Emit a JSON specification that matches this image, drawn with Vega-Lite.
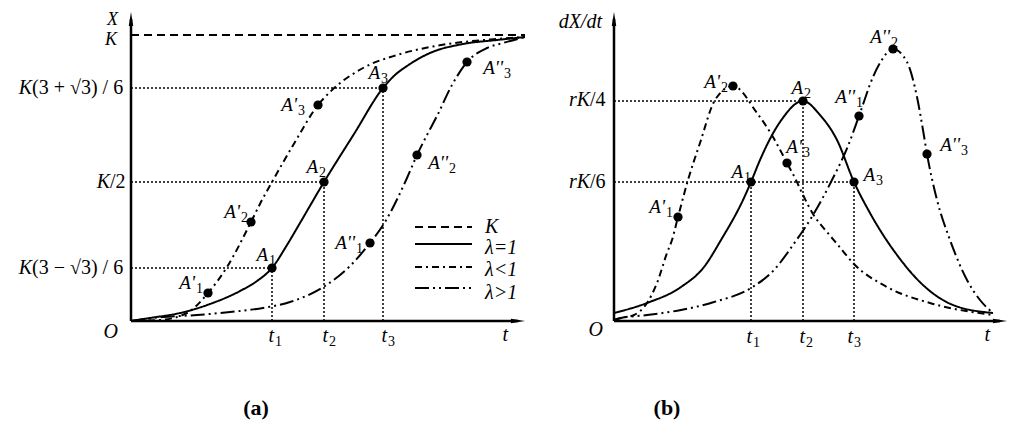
{
  "$schema": "https://vega.github.io/schema/vega-lite/v6.json",
  "width": 1024,
  "height": 431,
  "autosize": {"type": "fit", "contains": "padding"},
  "padding": 0,
  "background": "white",
  "config": {"view": {"stroke": null}, "text": {"font": "Liberation Serif, Times New Roman, Times, serif", "color": "black"}},
  "datasets": {
    "axesA": [{"t": 0, "X": 0, "t2": 0, "X2": 302}, {"t": 0, "X": 0, "t2": 387, "X2": 0}],
    "arrowsA": [{"t": 0, "X": 302, "dir": "up"}, {"t": 387, "X": 0, "dir": "right"}],
    "curvesA": [
      {"s": "K", "t": 0, "X": 286}, {"s": "K", "t": 394, "X": 286},
      {"s": "eq", "t": 0, "X": 0}, {"s": "eq", "t": 19, "X": 3}, {"s": "eq", "t": 49, "X": 8}, {"s": "eq", "t": 79, "X": 17}, {"s": "eq", "t": 109, "X": 30}, {"s": "eq", "t": 126, "X": 40}, {"s": "eq", "t": 141, "X": 53}, {"s": "eq", "t": 156, "X": 76}, {"s": "eq", "t": 169, "X": 98}, {"s": "eq", "t": 193, "X": 139}, {"s": "eq", "t": 223, "X": 187}, {"s": "eq", "t": 252, "X": 233}, {"s": "eq", "t": 264, "X": 246}, {"s": "eq", "t": 276, "X": 255}, {"s": "eq", "t": 299, "X": 268}, {"s": "eq", "t": 332, "X": 277}, {"s": "eq", "t": 366, "X": 281}, {"s": "eq", "t": 394, "X": 284},
      {"s": "lt", "t": 0, "X": 0}, {"s": "lt", "t": 29, "X": 1}, {"s": "lt", "t": 56, "X": 8}, {"s": "lt", "t": 77, "X": 28}, {"s": "lt", "t": 96, "X": 54}, {"s": "lt", "t": 120, "X": 99}, {"s": "lt", "t": 131, "X": 121}, {"s": "lt", "t": 141, "X": 139}, {"s": "lt", "t": 164, "X": 179}, {"s": "lt", "t": 187, "X": 216}, {"s": "lt", "t": 199, "X": 229}, {"s": "lt", "t": 232, "X": 253}, {"s": "lt", "t": 266, "X": 266}, {"s": "lt", "t": 299, "X": 274}, {"s": "lt", "t": 332, "X": 279}, {"s": "lt", "t": 366, "X": 282}, {"s": "lt", "t": 394, "X": 284},
      {"s": "gt", "t": 0, "X": 0}, {"s": "gt", "t": 32, "X": 4}, {"s": "gt", "t": 66, "X": 6}, {"s": "gt", "t": 99, "X": 9}, {"s": "gt", "t": 132, "X": 13}, {"s": "gt", "t": 159, "X": 19}, {"s": "gt", "t": 194, "X": 35}, {"s": "gt", "t": 219, "X": 55}, {"s": "gt", "t": 239, "X": 78}, {"s": "gt", "t": 254, "X": 99}, {"s": "gt", "t": 276, "X": 143}, {"s": "gt", "t": 286, "X": 166}, {"s": "gt", "t": 296, "X": 186}, {"s": "gt", "t": 306, "X": 205}, {"s": "gt", "t": 321, "X": 236}, {"s": "gt", "t": 336, "X": 259}, {"s": "gt", "t": 356, "X": 273}, {"s": "gt", "t": 372, "X": 278}, {"s": "gt", "t": 394, "X": 284}
    ],
    "ptA": [
      {"name": "A1", "t": 141, "X": 53}, {"name": "A2", "t": 193, "X": 139}, {"name": "A3", "t": 252, "X": 233},
      {"name": "A'1", "t": 77, "X": 28}, {"name": "A'2", "t": 120, "X": 99}, {"name": "A'3", "t": 187, "X": 216},
      {"name": "A''1", "t": 239, "X": 78}, {"name": "A''2", "t": 286, "X": 166}, {"name": "A''3", "t": 336, "X": 259}
    ],
    "guidesA": [
      {"t": 0, "X": 53, "t2": 141, "X2": 53}, {"t": 0, "X": 139, "t2": 193, "X2": 139}, {"t": 0, "X": 233, "t2": 252, "X2": 233},
      {"t": 141, "X": 0, "t2": 141, "X2": 53}, {"t": 193, "X": 0, "t2": 193, "X2": 139}, {"t": 252, "X": 0, "t2": 252, "X2": 233}
    ],
    "legLinesA": [
      {"s": "K", "t": 284, "t2": 341, "X": 94}, {"s": "eq", "t": 284, "t2": 341, "X": 77},
      {"s": "lt", "t": 284, "t2": 341, "X": 54}, {"s": "gt", "t": 284, "t2": 341, "X": 33}
    ],
    "legTextA": [
      {"t": 354, "X": 94, "label": "K"}, {"t": 354, "X": 73, "label": "λ=1"},
      {"t": 354, "X": 51, "label": "λ<1"}, {"t": 354, "X": 28, "label": "λ>1"}
    ],
    "topA": [
      {"t": -13, "X": 301, "main": "X"},
      {"t": -14, "X": 281, "main": "K"}
    ],
    "texA": [
      {"t": -99, "X": 233, "main": "K", "rest": "(3 + √3) / 6", "sub": ""},
      {"t": -21, "X": 139, "main": "K", "rest": "/2", "sub": ""},
      {"t": -99, "X": 53, "main": "K", "rest": "(3 − √3) / 6", "sub": ""},
      {"t": -13, "X": -11, "main": "O", "rest": "", "sub": ""},
      {"t": 143, "X": -15, "main": "t", "rest": "", "sub": "1"},
      {"t": 197, "X": -15, "main": "t", "rest": "", "sub": "2"},
      {"t": 256, "X": -15, "main": "t", "rest": "", "sub": "3"},
      {"t": 377, "X": -14, "main": "t", "rest": "", "sub": ""}
    ],
    "ptlabA": [
      {"t": 64, "X": 38, "main": "A'", "sub": "1"}, {"t": 109, "X": 109, "main": "A'", "sub": "2"}, {"t": 137, "X": 66, "main": "A", "sub": "1"},
      {"t": 166, "X": 216, "main": "A'", "sub": "3"}, {"t": 187, "X": 154, "main": "A", "sub": "2"}, {"t": 249, "X": 248, "main": "A", "sub": "3"},
      {"t": 372, "X": 253, "main": "A''", "sub": "3"}, {"t": 317, "X": 158, "main": "A''", "sub": "2"}, {"t": 224, "X": 78, "main": "A''", "sub": "1"}
    ],
    "capA": [{"t": 125, "X": -87, "label": "(a)"}],
    "axesB": [{"t": 0, "X": 0, "t2": 0, "X2": 302}, {"t": 0, "X": 0, "t2": 386, "X2": 0}],
    "arrowsB": [{"t": 0, "X": 302, "dir": "up"}, {"t": 386, "X": 0, "dir": "right"}],
    "curvesB": [
      {"s": "eq", "t": 0, "X": 8}, {"s": "eq", "t": 33, "X": 18}, {"s": "eq", "t": 67, "X": 34}, {"s": "eq", "t": 90, "X": 54}, {"s": "eq", "t": 107, "X": 81}, {"s": "eq", "t": 129, "X": 121}, {"s": "eq", "t": 137, "X": 139}, {"s": "eq", "t": 146, "X": 161}, {"s": "eq", "t": 166, "X": 199}, {"s": "eq", "t": 189, "X": 220}, {"s": "eq", "t": 206, "X": 206}, {"s": "eq", "t": 223, "X": 181}, {"s": "eq", "t": 240, "X": 139}, {"s": "eq", "t": 256, "X": 108}, {"s": "eq", "t": 266, "X": 91}, {"s": "eq", "t": 283, "X": 66}, {"s": "eq", "t": 309, "X": 36}, {"s": "eq", "t": 339, "X": 16}, {"s": "eq", "t": 379, "X": 8},
      {"s": "lt", "t": 0, "X": 1}, {"s": "lt", "t": 7, "X": 3}, {"s": "lt", "t": 20, "X": 6}, {"s": "lt", "t": 33, "X": 18}, {"s": "lt", "t": 43, "X": 38}, {"s": "lt", "t": 53, "X": 68}, {"s": "lt", "t": 58, "X": 81}, {"s": "lt", "t": 64, "X": 104}, {"s": "lt", "t": 74, "X": 141}, {"s": "lt", "t": 86, "X": 178}, {"s": "lt", "t": 101, "X": 221}, {"s": "lt", "t": 119, "X": 235}, {"s": "lt", "t": 143, "X": 208}, {"s": "lt", "t": 159, "X": 184}, {"s": "lt", "t": 173, "X": 158}, {"s": "lt", "t": 181, "X": 143}, {"s": "lt", "t": 189, "X": 126}, {"s": "lt", "t": 199, "X": 107}, {"s": "lt", "t": 213, "X": 89}, {"s": "lt", "t": 224, "X": 76}, {"s": "lt", "t": 239, "X": 58}, {"s": "lt", "t": 273, "X": 34}, {"s": "lt", "t": 316, "X": 18}, {"s": "lt", "t": 379, "X": 6},
      {"s": "gt", "t": 0, "X": 1}, {"s": "gt", "t": 7, "X": 3}, {"s": "gt", "t": 33, "X": 6}, {"s": "gt", "t": 67, "X": 11}, {"s": "gt", "t": 100, "X": 19}, {"s": "gt", "t": 137, "X": 33}, {"s": "gt", "t": 160, "X": 51}, {"s": "gt", "t": 179, "X": 76}, {"s": "gt", "t": 199, "X": 106}, {"s": "gt", "t": 219, "X": 143}, {"s": "gt", "t": 234, "X": 175}, {"s": "gt", "t": 245, "X": 205}, {"s": "gt", "t": 259, "X": 244}, {"s": "gt", "t": 266, "X": 258}, {"s": "gt", "t": 279, "X": 272}, {"s": "gt", "t": 293, "X": 259}, {"s": "gt", "t": 303, "X": 224}, {"s": "gt", "t": 309, "X": 191}, {"s": "gt", "t": 313, "X": 167}, {"s": "gt", "t": 323, "X": 121}, {"s": "gt", "t": 336, "X": 81}, {"s": "gt", "t": 353, "X": 41}, {"s": "gt", "t": 366, "X": 21}, {"s": "gt", "t": 379, "X": 8}
    ],
    "ptB": [
      {"name": "A1", "t": 137, "X": 139}, {"name": "A2", "t": 189, "X": 220}, {"name": "A3", "t": 240, "X": 139},
      {"name": "A'1", "t": 64, "X": 104}, {"name": "A'2", "t": 119, "X": 235}, {"name": "A'3", "t": 173, "X": 158},
      {"name": "A''1", "t": 245, "X": 205}, {"name": "A''2", "t": 279, "X": 272}, {"name": "A''3", "t": 313, "X": 167}
    ],
    "guidesB": [
      {"t": 0, "X": 220, "t2": 189, "X2": 220}, {"t": 0, "X": 139, "t2": 240, "X2": 139},
      {"t": 137, "X": 0, "t2": 137, "X2": 139}, {"t": 189, "X": 0, "t2": 189, "X2": 220}, {"t": 240, "X": 0, "t2": 240, "X2": 139}
    ],
    "texB": [
      {"t": -12, "X": 299, "main": "dX/dt", "rest": "", "sub": ""},
      {"t": -24, "X": 221, "main": "rK", "rest": "/4", "sub": ""},
      {"t": -24, "X": 139, "main": "rK", "rest": "/6", "sub": ""},
      {"t": -11, "X": -9, "main": "O", "rest": "", "sub": ""},
      {"t": 138, "X": -16, "main": "t", "rest": "", "sub": "1"},
      {"t": 191, "X": -16, "main": "t", "rest": "", "sub": "2"},
      {"t": 239, "X": -16, "main": "t", "rest": "", "sub": "3"},
      {"t": 376, "X": -14, "main": "t", "rest": "", "sub": ""}
    ],
    "ptlabB": [
      {"t": 51, "X": 114, "main": "A'", "sub": "1"}, {"t": 106, "X": 239, "main": "A'", "sub": "2"}, {"t": 129, "X": 149, "main": "A", "sub": "1"},
      {"t": 188, "X": 174, "main": "A'", "sub": "3"}, {"t": 189, "X": 233, "main": "A", "sub": "2"}, {"t": 261, "X": 146, "main": "A", "sub": "3"},
      {"t": 241, "X": 224, "main": "A''", "sub": "1"}, {"t": 276, "X": 284, "main": "A''", "sub": "2"}, {"t": 346, "X": 176, "main": "A''", "sub": "3"}
    ],
    "capB": [{"t": 53, "X": -87, "label": "(b)"}]
  },
  "layer": [
    {
      "encoding": {
        "x": {"field": "t", "type": "quantitative", "scale": {"domain": [0, 394], "range": [131, 525], "nice": false, "zero": false}, "axis": null},
        "y": {"field": "X", "type": "quantitative", "scale": {"domain": [0, 309], "range": [321, 12], "nice": false, "zero": false}, "axis": null}
      },
      "layer": [
        {"data": {"name": "guidesA"}, "mark": {"type": "rule", "color": "black", "strokeWidth": 1.5, "strokeDash": [2, 2]}, "encoding": {"x2": {"field": "t2"}, "y2": {"field": "X2"}}},
        {"data": {"name": "curvesA"}, "mark": {"type": "line", "interpolate": "monotone", "color": "black", "strokeWidth": 2},
         "encoding": {"strokeDash": {"field": "s", "type": "nominal", "scale": {"domain": ["K", "eq", "lt", "gt"], "range": [[8, 5], [1, 0], [7, 4, 2, 4], [14, 4, 2, 4, 2, 4]]}, "legend": null}}},
        {"data": {"name": "axesA"}, "mark": {"type": "rule", "color": "black", "strokeWidth": 2.5}, "encoding": {"x2": {"field": "t2"}, "y2": {"field": "X2"}}},
        {"data": {"name": "arrowsA"}, "mark": {"type": "point", "filled": true, "color": "black", "opacity": 1, "size": 200, "strokeWidth": 0},
         "encoding": {"shape": {"field": "dir", "type": "nominal", "scale": {"domain": ["up", "right"], "range": ["M0,-1L0.32,1L-0.32,1Z", "M1,0L-1,0.32L-1,-0.32Z"]}, "legend": null}}},
        {"data": {"name": "ptA"}, "mark": {"type": "point", "filled": true, "color": "black", "opacity": 1, "size": 85}},
        {"data": {"name": "legLinesA"}, "mark": {"type": "rule", "color": "black", "strokeWidth": 2},
         "encoding": {"x2": {"field": "t2"}, "strokeDash": {"field": "s", "type": "nominal", "scale": {"domain": ["K", "eq", "lt", "gt"], "range": [[8, 5], [1, 0], [7, 4, 2, 4], [14, 4, 2, 4, 2, 4]]}, "legend": null}}},
        {"data": {"name": "legTextA"}, "mark": {"type": "text", "align": "left", "baseline": "middle", "fontStyle": "italic", "fontSize": 20}, "encoding": {"text": {"field": "label"}}},
        {"data": {"name": "topA"}, "mark": {"type": "text", "align": "right", "baseline": "middle", "fontStyle": "italic", "fontSize": 18}, "encoding": {"text": {"field": "main"}}},
        {"data": {"name": "texA"}, "mark": {"type": "text", "align": "right", "baseline": "middle", "fontStyle": "italic", "fontSize": 20}, "encoding": {"text": {"field": "main"}}},
        {"data": {"name": "texA"}, "mark": {"type": "text", "align": "left", "baseline": "middle", "fontSize": 20}, "encoding": {"text": {"field": "rest"}}},
        {"data": {"name": "texA"}, "mark": {"type": "text", "align": "left", "baseline": "middle", "fontSize": 14, "dy": 6, "dx": 1}, "encoding": {"text": {"field": "sub"}}},
        {"data": {"name": "ptlabA"}, "mark": {"type": "text", "align": "right", "baseline": "middle", "fontStyle": "italic", "fontSize": 19}, "encoding": {"text": {"field": "main"}}},
        {"data": {"name": "ptlabA"}, "mark": {"type": "text", "align": "left", "baseline": "middle", "fontSize": 14, "dy": 6, "dx": 1}, "encoding": {"text": {"field": "sub"}}},
        {"data": {"name": "capA"}, "mark": {"type": "text", "align": "center", "baseline": "middle", "fontWeight": "bold", "fontSize": 22}, "encoding": {"text": {"field": "label"}}}
      ]
    },
    {
      "encoding": {
        "x": {"field": "t", "type": "quantitative", "scale": {"domain": [0, 393], "range": [614, 1007], "nice": false, "zero": false}, "axis": null},
        "y": {"field": "X", "type": "quantitative", "scale": {"domain": [0, 309], "range": [321, 12], "nice": false, "zero": false}, "axis": null}
      },
      "layer": [
        {"data": {"name": "guidesB"}, "mark": {"type": "rule", "color": "black", "strokeWidth": 1.5, "strokeDash": [2, 2]}, "encoding": {"x2": {"field": "t2"}, "y2": {"field": "X2"}}},
        {"data": {"name": "curvesB"}, "mark": {"type": "line", "interpolate": "monotone", "color": "black", "strokeWidth": 2},
         "encoding": {"strokeDash": {"field": "s", "type": "nominal", "scale": {"domain": ["K", "eq", "lt", "gt"], "range": [[8, 5], [1, 0], [7, 4, 2, 4], [14, 4, 2, 4, 2, 4]]}, "legend": null}}},
        {"data": {"name": "axesB"}, "mark": {"type": "rule", "color": "black", "strokeWidth": 2.5}, "encoding": {"x2": {"field": "t2"}, "y2": {"field": "X2"}}},
        {"data": {"name": "arrowsB"}, "mark": {"type": "point", "filled": true, "color": "black", "opacity": 1, "size": 200, "strokeWidth": 0},
         "encoding": {"shape": {"field": "dir", "type": "nominal", "scale": {"domain": ["up", "right"], "range": ["M0,-1L0.32,1L-0.32,1Z", "M1,0L-1,0.32L-1,-0.32Z"]}, "legend": null}}},
        {"data": {"name": "ptB"}, "mark": {"type": "point", "filled": true, "color": "black", "opacity": 1, "size": 85}},
        {"data": {"name": "texB"}, "mark": {"type": "text", "align": "right", "baseline": "middle", "fontStyle": "italic", "fontSize": 20}, "encoding": {"text": {"field": "main"}}},
        {"data": {"name": "texB"}, "mark": {"type": "text", "align": "left", "baseline": "middle", "fontSize": 20}, "encoding": {"text": {"field": "rest"}}},
        {"data": {"name": "texB"}, "mark": {"type": "text", "align": "left", "baseline": "middle", "fontSize": 14, "dy": 6, "dx": 1}, "encoding": {"text": {"field": "sub"}}},
        {"data": {"name": "ptlabB"}, "mark": {"type": "text", "align": "right", "baseline": "middle", "fontStyle": "italic", "fontSize": 19}, "encoding": {"text": {"field": "main"}}},
        {"data": {"name": "ptlabB"}, "mark": {"type": "text", "align": "left", "baseline": "middle", "fontSize": 14, "dy": 6, "dx": 1}, "encoding": {"text": {"field": "sub"}}},
        {"data": {"name": "capB"}, "mark": {"type": "text", "align": "center", "baseline": "middle", "fontWeight": "bold", "fontSize": 22}, "encoding": {"text": {"field": "label"}}}
      ]
    }
  ],
  "resolve": {"scale": {"x": "independent"}}
}
